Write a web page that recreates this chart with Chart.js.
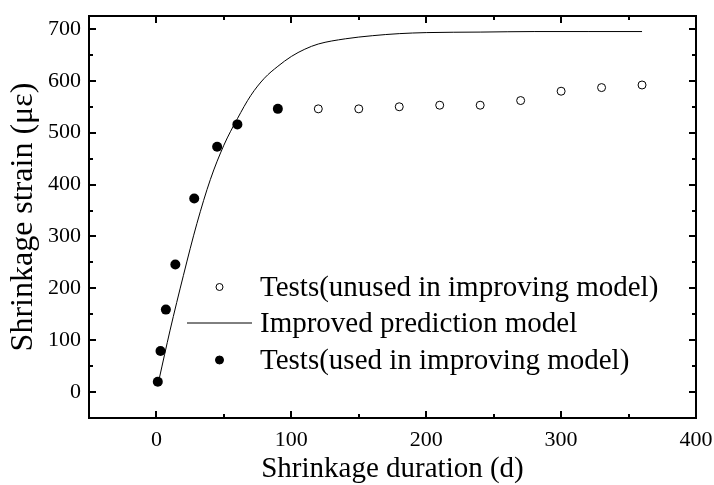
<!DOCTYPE html>
<html><head><meta charset="utf-8">
<script src="https://cdn.jsdelivr.net/npm/chart.js@4/dist/chart.umd.min.js"></script>
<style>html,body{margin:0;padding:0;background:#fff}#wrap{width:714px;height:485px}</style>
</head><body><div id="wrap"><canvas id="c" width="714" height="485"></canvas></div>
<script>
const usedDays = [1, 3, 7, 14, 28, 45, 60, 90];
const usedStrain = [20, 79, 159, 246, 373, 473, 516, 546];
const unusedDays = [120, 150, 180, 210, 240, 270, 300, 330, 360];
const unusedStrain = [546, 546, 550, 553, 553, 562, 580, 587, 592];
const modelDays = [2, 10, 20, 30, 40, 50, 60, 70, 80, 90, 100, 110, 120, 140, 160, 180, 200, 240, 280, 320, 360];
const modelStrain = [25, 118, 225, 325, 410, 476, 527, 572, 605, 628, 647, 661, 671, 681, 687, 691, 693, 694, 695, 695, 695];
const xTicks = [0, 100, 200, 300, 400];
const yTicks = [0, 100, 200, 300, 400, 500, 600, 700];
const seriesLabels = ['Tests(unused in improving model)', 'Improved prediction model', 'Tests(used in improving model)'];
const xTitle = 'Shrinkage duration (d)';
const yTitle = 'Shrinkage strain (\u03bc\u03b5)';

const FONT = "'Liberation Serif', 'Times New Roman', serif";

const pts = (xs, ys) => xs.map((x, i) => ({x: x, y: ys[i]}));

const framePlugin = {
  id: 'frame',
  afterDraw(chart) {
    const ctx = chart.ctx, a = chart.chartArea;
    const xs = chart.scales.x, ys = chart.scales.y;
    ctx.save();
    ctx.strokeStyle = '#000';
    ctx.lineWidth = 2;
    ctx.strokeRect(a.left, a.top, a.right - a.left, a.bottom - a.top);
    const major = 7, minor = 4;
    ctx.beginPath();
    for (let v = xs.min; v <= xs.max; v += 50) {
      if (v === xs.min || v === xs.max) continue;
      const p = Math.round(xs.getPixelForValue(v));
      const L = (v % 100 === 0) ? major : minor;
      ctx.moveTo(p, a.bottom); ctx.lineTo(p, a.bottom - L);
      ctx.moveTo(p, a.top); ctx.lineTo(p, a.top + L);
    }
    for (let v = -50; v <= ys.max; v += 50) {
      if (v <= ys.min || v >= ys.max) continue;
      const p = Math.round(ys.getPixelForValue(v));
      const L = (v % 100 === 0) ? major : minor;
      ctx.moveTo(a.left, p); ctx.lineTo(a.left + L, p);
      ctx.moveTo(a.right, p); ctx.lineTo(a.right - L, p);
    }
    ctx.stroke();

    // legend
    const ds = chart.data.datasets;
    const lx = 260, rows = [287, 323, 360];
    ctx.font = "29px " + FONT;
    ctx.textBaseline = 'middle';
    ctx.textAlign = 'left';
    [0, 1, 2].forEach((di, i) => {
      const d = ds[di], y = rows[i];
      ctx.lineWidth = 1;
      if (d.showLine) {
        ctx.beginPath(); ctx.moveTo(187, y); ctx.lineTo(252, y); ctx.strokeStyle = '#000'; ctx.stroke();
      } else {
        ctx.beginPath(); ctx.arc(219.5, y, d.legendRadius, 0, Math.PI * 2);
        ctx.fillStyle = d.backgroundColor; ctx.fill();
        ctx.strokeStyle = '#000'; ctx.stroke();
      }
      ctx.fillStyle = '#000';
      ctx.fillText(d.label, lx, y + 1);
    });
    ctx.restore();
  }
};

new Chart(document.getElementById('c'), {
  type: 'scatter',
  data: {
    datasets: [
      {
        label: seriesLabels[0], data: pts(unusedDays, unusedStrain),
        pointRadius: 4, borderWidth: 1, borderColor: '#000', backgroundColor: '#fff',
        pointBorderColor: '#000', pointBackgroundColor: '#fff', legendRadius: 3.5
      },
      {
        label: seriesLabels[1], data: pts(modelDays, modelStrain), showLine: true,
        pointRadius: 0, borderWidth: 1, borderColor: '#000', backgroundColor: '#000',
        cubicInterpolationMode: 'monotone', fill: false
      },
      {
        label: seriesLabels[2], data: pts(usedDays, usedStrain),
        pointRadius: 5, borderWidth: 0, borderColor: '#000', backgroundColor: '#000',
        pointBackgroundColor: '#000', legendRadius: 4
      }
    ]
  },
  options: {
    responsive: false, animation: false, devicePixelRatio: 1,
    layout: {padding: {top: 16, right: 18, left: 0, bottom: 0}},
    plugins: {legend: {display: false}, tooltip: {enabled: false}},
    scales: {
      x: {
        type: 'linear', min: -50, max: 400,
        afterBuildTicks: s => { s.ticks = xTicks.map(v => ({value: v})); },
        afterFit: s => { s.height = 67; s.paddingLeft = 0; s.paddingRight = 0; },
        grid: {display: false, drawTicks: false},
        border: {display: false},
        ticks: {color: '#000', padding: 9, font: {family: FONT, size: 22}, maxRotation: 0, callback: v => String(v)},
        title: {display: true, text: xTitle, color: '#000', font: {family: FONT, size: 29, lineHeight: 1}, padding: {top: 0, bottom: 1}}
      },
      y: {
        type: 'linear', min: -50, max: 725,
        afterBuildTicks: s => { s.ticks = yTicks.map(v => ({value: v})); },
        afterFit: s => { s.width = 89; s.paddingTop = 0; s.paddingBottom = 0; },
        grid: {display: false, drawTicks: false},
        border: {display: false},
        ticks: {color: '#000', padding: 8, font: {family: FONT, size: 22}, callback: v => String(v)},
        title: {display: true, text: yTitle, color: '#000', font: {family: FONT, size: 32, lineHeight: 1}, padding: {top: 8, bottom: 8}}
      }
    }
  },
  plugins: [framePlugin]
});
</script></body></html>
